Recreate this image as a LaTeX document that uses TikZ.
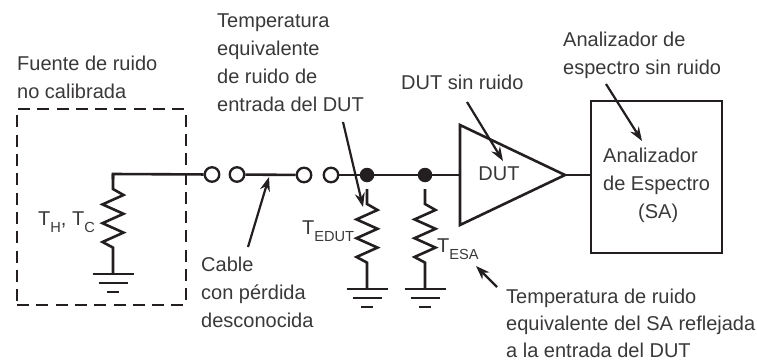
\documentclass[tikz,border=0pt]{standalone}
\usepackage{fontspec}
\setmainfont{Liberation Sans}
\usetikzlibrary{arrows.meta}
\definecolor{ink}{HTML}{231F20}
\definecolor{txt}{HTML}{3A3839}
\tikzset{
  wire/.style={draw=ink,line width=2.6pt,line join=miter},
  lbl/.style={font=\fontsize{20}{28}\selectfont,text=txt,align=left,inner sep=0pt,anchor=north west},
  ctr/.style={lbl,align=center,anchor=center},
  open/.style={circle,draw=ink,line width=2.3pt,fill=white,minimum size=14.5pt,inner sep=0pt},
  dot/.style={circle,fill=ink,minimum size=14.5pt,inner sep=0pt},
  ptr/.style={draw=ink,line width=2.2pt,-{Stealth[length=14pt,width=10pt]}}
}
\newcommand{\zig}[2]{% x, top y
  \draw[wire] (#1,#2-15) -- (#1,#2) -- ++(10.5,6) -- ++(-21,9.4) -- ++(21,9.4) -- ++(-21,9.4) -- ++(21,9.4) -- ++(-21,9.4) -- ++(10.5,5.6) -- (#1,#2+85);
  \draw[wire] (#1-20.5,#2+85) -- (#1+20.5,#2+85);
  \draw[wire] (#1-14.5,#2+94) -- (#1+14.5,#2+94);
  \draw[wire] (#1-6,#2+103) -- (#1+6,#2+103);
}
\newcommand{\tsub}[1]{T\raisebox{-7pt}{\fontsize{14.6}{16}\selectfont #1}}
\begin{document}
\begin{tikzpicture}[x=1pt,y=-1pt]
\useasboundingbox (0,0) rectangle (757,362);
% dashed source box
\node[draw=ink,line width=2.4pt,dash pattern=on 12pt off 7.3pt,minimum width=169pt,minimum height=196pt,inner sep=0pt] (src) at (101.5,207) {};
% resistors
\zig{113}{189}
\zig{367}{204}
\zig{425}{204}
% main line
\node[open] (o1) at (212,174.5) {};
\node[open] (o2) at (237,174.5) {};
\node[open] (o3) at (304,175) {};
\node[open] (o4) at (331,175) {};
\node[dot] (d1) at (367,175) {};
\node[dot] (d2) at (425,175) {};
\coordinate (rt) at (113,174);
\draw[wire] (o1) -- (rt) -- ++(0,5);
\draw[wire] (o2) -- (o3);
\draw[wire] (o4) -- (d1) -- (d2);
% DUT
\draw[wire] (460,125) -- (565,175) -- (460,225) -- cycle;
\node[ctr] (dut) at (499,173.5) {DUT};
\coordinate (in) at (460,175);
\coordinate (tip) at (565,175);
\draw[wire] (d2) -- (in);
% SA
\node[draw=ink,line width=2.6pt,minimum width=131pt,minimum height=152pt,inner sep=0pt] (sa) at (656.5,177) {};
\draw[wire] (tip) -- (sa.west |- tip);
\node[lbl] (satxt) at (603,148) {Analizador\\de Espectro\\\hspace*{35pt}(SA)};
% labels
\node[lbl] (l1) at (17,56) {Fuente de ruido\\no calibrada};
\node[lbl] (l2) at (217,14) {Temperatura\\equivalente\\de ruido de\\entrada del DUT};
\node[lbl] (l3) at (201,257) {Cable\\con pérdida\\desconocida};
\node[lbl] (l4) at (401,75) {DUT sin ruido};
\node[lbl] (l5) at (563,32) {Analizador de\\espectro sin ruido};
\node[lbl,font=\fontsize{20}{27.4}\selectfont] (l6) at (506,288.5) {Temperatura de ruido\\equivalente del SA reflejada\\a la entrada del DUT};
\node[lbl,anchor=base west] (th) at (38,225) {\tsub{H}, \tsub{C}};
\node[lbl,anchor=base west] (te) at (302,234) {\tsub{EDUT}};
\node[lbl,anchor=base west] (ts) at (437,252) {\tsub{ESA}};
% pointers
\coordinate (a1s) at (343,122); \coordinate (a1e) at (363,207);
\draw[ptr] (a1s) -- (a1e);
\coordinate (a2s) at (467,102); \coordinate (a2e) at (503,161);
\draw[ptr] (a2s) -- (a2e);
\coordinate (a3s) at (606,84); \coordinate (a3e) at (642,141);
\draw[ptr] (a3s) -- (a3e);
\coordinate (a4s) at (248,247); \coordinate (a4e) at (269,177);
\draw[ptr] (a4s) -- (a4e);
\coordinate (a5s) at (497,287); \coordinate (a5e) at (476,266);
\draw[ptr] (a5s) -- (a5e);
\end{tikzpicture}
\end{document}
